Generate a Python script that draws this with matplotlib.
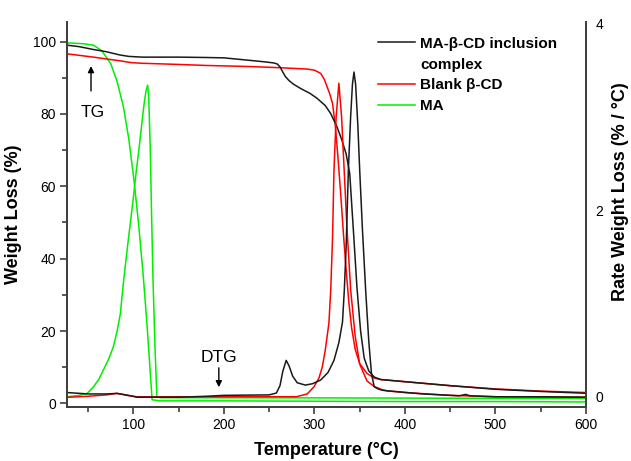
import matplotlib
matplotlib.use('Agg')
import matplotlib.pyplot as plt
from matplotlib.lines import Line2D
from matplotlib.ticker import MultipleLocator

plt.rcParams['font.family'] = ['Liberation Sans', 'DejaVu Sans']

# ---------------- data ----------------
# TG (weight %, left axis)
tg_complex_T = [27, 40, 56, 70, 85, 95, 110, 130, 150, 180, 200, 229, 245, 255, 259, 262, 265, 268, 272,
                277, 285, 295, 303, 312, 318, 325, 330, 335, 339, 343, 347, 351, 355, 360, 366, 373,
                400, 450, 500, 550, 600]
tg_complex_W = [99.0, 98.6, 97.8, 97.2, 96.3, 95.9, 95.7, 95.7, 95.7, 95.6, 95.5, 94.8, 94.4, 94.1, 93.8,
                93.0, 91.6, 90.3, 89.2, 88.2, 87.0, 85.7, 84.3, 82.3, 80.1, 76.4, 73.0, 69.0, 63.5, 48.0,
                32.0, 20.0, 12.5, 9.0, 7.3, 6.6, 6.0, 4.9, 3.9, 3.3, 2.8]

tg_blank_T = [27, 40, 56, 70, 85, 97, 110, 148, 180, 229, 260, 292, 300, 307, 311, 314, 317, 320, 323,
              326, 329, 332, 335, 338, 341, 345, 350, 358, 366, 373, 400, 450, 500, 550, 600]
tg_blank_W = [96.6, 96.2, 95.7, 95.2, 94.7, 94.2, 94.0, 93.7, 93.4, 93.1, 92.8, 92.4, 92.1, 91.2, 89.5,
              87.5, 85.5, 82.9, 77.0, 68.0, 58.0, 47.0, 37.0, 28.0, 21.0, 15.0, 11.0, 8.3, 7.0, 6.6,
              6.0, 4.9, 4.0, 3.4, 3.0]

tg_ma_T = [27, 30, 45, 56, 65, 75, 82, 89, 95, 101, 106, 111, 115, 118, 120.7, 130, 200, 300, 400, 500, 600]
tg_ma_W = [99.6, 99.6, 99.4, 99.0, 97.5, 93.9, 89.0, 82.0, 73.0, 61.0, 49.0, 35.0, 22.0, 11.0, 1.0,
           0.7, 0.7, 0.6, 0.5, 0.5, 0.4]

# DTG (rate %/degC, right axis)
dtg_complex_T = [27, 50, 70, 82, 93, 104, 150, 180, 200, 250, 258, 262, 265, 268.8, 272, 276, 281, 290,
                 298, 307, 315, 321.6, 327, 331, 333, 335, 337.5, 340, 342, 343.7, 345.5, 348, 350, 353,
                 356.6, 360, 363, 366, 370, 375, 380, 400, 420, 450, 460, 467, 472, 500, 550, 600]
dtg_complex_R = [0.045, 0.03, 0.03, 0.036, 0.018, -0.005, -0.005, 0.005, 0.015, 0.02, 0.04, 0.12, 0.27,
                 0.39, 0.33, 0.22, 0.15, 0.125, 0.14, 0.18, 0.26, 0.39, 0.58, 0.8, 1.14, 1.6, 2.43, 3.0,
                 3.35, 3.48, 3.35, 2.9, 2.43, 1.8, 1.14, 0.6, 0.25, 0.107, 0.085, 0.07, 0.064, 0.047,
                 0.03, 0.015, 0.01, 0.025, 0.01, 0.0, 0.0, -0.005]

dtg_blank_T = [27, 50, 70, 82, 93, 104, 200, 280, 292, 299.5, 305, 308.7, 312, 316, 318, 320, 321.6, 324,
               327, 330, 333, 336, 340, 345, 350, 358, 366, 375, 380, 400, 450, 500, 600]
dtg_blank_R = [-0.006, 0.005, 0.02, 0.036, 0.015, 0.0, 0.0, 0.0, 0.03, 0.107, 0.2, 0.32, 0.5, 0.79, 1.14,
               1.7, 2.43, 3.0, 3.36, 3.0, 2.4, 1.8, 1.15, 0.65, 0.35, 0.17, 0.11, 0.075, 0.064, 0.045,
               0.015, 0.0, -0.005]

dtg_ma_T = [27, 40, 49, 56, 62, 67, 73, 78, 82, 85.6, 89.3, 94, 99, 103, 106, 109, 112, 114, 115.8, 117,
            118.7, 120, 121.7, 124, 126, 130, 300, 500, 600]
dtg_ma_R = [0.0, 0.015, 0.036, 0.107, 0.19, 0.29, 0.41, 0.54, 0.7, 0.89, 1.25, 1.65, 2.05, 2.4, 2.64, 2.9,
            3.15, 3.28, 3.34, 3.2, 2.64, 2.0, 1.25, 0.5, 0.0, -0.01, -0.012, -0.017, -0.017]

legend_labels = ['MA-\u03b2-CD inclusion', 'complex', 'Blank \u03b2-CD', 'MA']
x_ticks = [100, 200, 300, 400, 500, 600]
y_left_ticks = [0, 20, 40, 60, 80, 100]
y_right_ticks = [0, 2, 4]

# ---------------- figure ----------------
c_black = '#1a1a1a'
c_red = '#ff0000'
c_green = '#00ee00'
lw = 1.1

fig = plt.figure(figsize=(6.31, 4.61), dpi=100)
ax = fig.add_axes([0.1062, 0.1171, 0.8225, 0.8351])
ax2 = ax.twinx()

ax.plot(tg_ma_T, tg_ma_W, color=c_green, lw=lw)
ax.plot(tg_blank_T, tg_blank_W, color=c_red, lw=lw)
ax.plot(tg_complex_T, tg_complex_W, color=c_black, lw=lw)

l_ma, = ax2.plot(dtg_ma_T, dtg_ma_R, color=c_green, lw=lw)
l_blank, = ax2.plot(dtg_blank_T, dtg_blank_R, color=c_red, lw=lw)
l_complex, = ax2.plot(dtg_complex_T, dtg_complex_R, color=c_black, lw=lw)

ax.set_xlim(26.7, 600)
ax.set_ylim(-1.0, 105.4)
ax2.set_ylim(-0.11, 4.016)

spine_c = '#404040'
for a in (ax, ax2):
    a.spines['top'].set_visible(False)
    for s in ('left', 'right', 'bottom'):
        a.spines[s].set_color(spine_c)
        a.spines[s].set_linewidth(1.4)

ax.set_xticks(x_ticks)
ax.xaxis.set_minor_locator(MultipleLocator(50))
ax.set_yticks(y_left_ticks)
ax.yaxis.set_minor_locator(MultipleLocator(10))
ax.tick_params(axis='both', which='major', direction='out', length=5, width=1.2,
               color=spine_c, labelsize=10, pad=3)
ax.tick_params(axis='both', which='minor', direction='out', length=3.5, width=1.2, color=spine_c)
ax.tick_params(axis='y', which='both', right=False)

ax2.set_yticks(y_right_ticks)
ax2.tick_params(axis='y', which='both', length=0, labelsize=10, pad=7)

ax.set_xlabel('Temperature (\u00b0C)', fontsize=13, fontweight='bold', labelpad=7)
ax.set_ylabel('Weight Loss (%)', fontsize=13, fontweight='bold', labelpad=8)
ax2.set_ylabel('Rate Weight Loss (% / \u00b0C)', fontsize=13, fontweight='bold')
ax2.yaxis.set_label_coords(1.05, 0.56)

# annotations
ax.annotate('', xy=(53.2, 94.0), xytext=(53.2, 85.6),
            arrowprops=dict(arrowstyle='-|>', color='black', lw=1.0, mutation_scale=9))
ax.text(55, 80.5, 'TG', ha='center', va='center', fontsize=12.5)
ax.annotate('', xy=(194.4, 3.7), xytext=(194.4, 10.6),
            arrowprops=dict(arrowstyle='-|>', color='black', lw=1.0, mutation_scale=9))
ax.text(194.4, 12.8, 'DTG', ha='center', va='center', fontsize=12.5)

blank_handle = Line2D([], [], color='none')
ax2.legend([l_complex, blank_handle, l_blank, l_ma], legend_labels,
           loc='upper left', bbox_to_anchor=(0.6, 0.962), frameon=False,
           prop={'size': 11, 'weight': 'bold'}, handlelength=2.4, handletextpad=0.35,
           labelspacing=0.45, borderaxespad=0, borderpad=0)

fig.savefig('out.png', dpi=100)
